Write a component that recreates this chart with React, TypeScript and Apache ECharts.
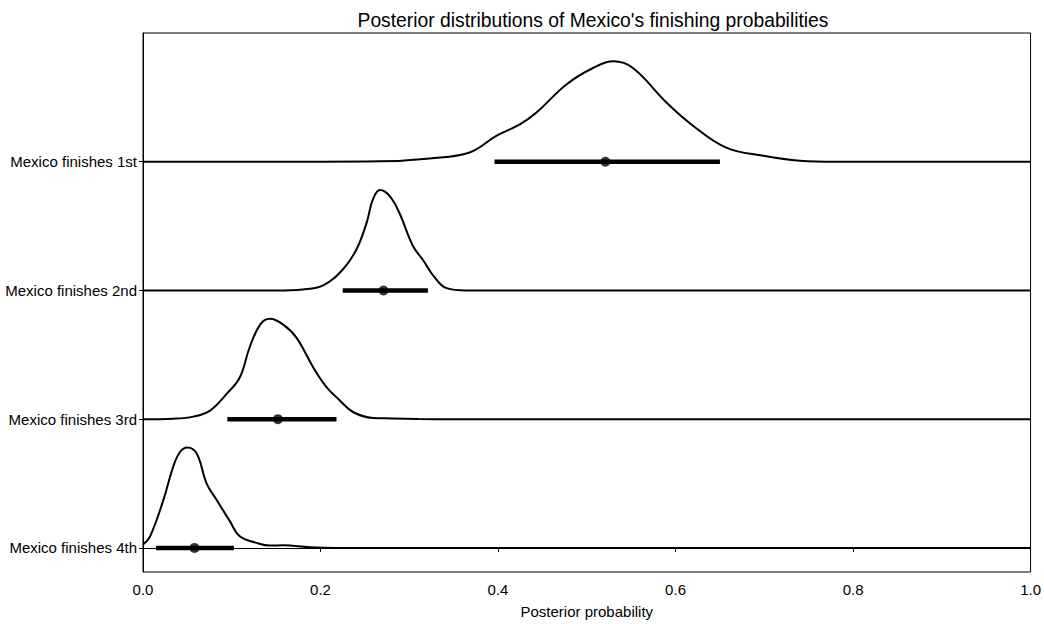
import React, { useEffect, useRef } from "react";
import * as echarts from "echarts";

const categories = ["Mexico finishes 4th", "Mexico finishes 3rd", "Mexico finishes 2nd", "Mexico finishes 1st"];
const offsets = [0, 1, 2, 3];

// density curves (x = probability, h = scaled density height above baseline)
const dens1st: [number, number][] = [
  [0.0, 0], [0.2, 0], [0.267, 0.003], [0.323, 0.026], [0.368, 0.072], [0.398, 0.2], [0.4245, 0.29],
  [0.443, 0.38], [0.477, 0.6], [0.507, 0.728], [0.53, 0.78], [0.552, 0.728], [0.59, 0.458],
  [0.62, 0.278], [0.657, 0.11], [0.699, 0.046], [0.74, 0.008], [0.78, 0], [1.0, 0],
];
const dens2nd: [number, number][] = [
  [0.0, 0], [0.15, 0], [0.18, 0.008], [0.203, 0.039], [0.2256, 0.167], [0.2406, 0.32],
  [0.252, 0.527], [0.259, 0.707], [0.267, 0.78], [0.278, 0.733], [0.289, 0.6], [0.304, 0.347],
  [0.316, 0.231], [0.327, 0.116], [0.342, 0.018], [0.364, 0], [1.0, 0],
];
const dens3rd: [number, number][] = [
  [0.0, 0], [0.034, 0.004], [0.0567, 0.02], [0.0755, 0.067], [0.094, 0.195], [0.109, 0.324],
  [0.12, 0.555], [0.132, 0.735], [0.143, 0.78], [0.158, 0.735], [0.173, 0.632], [0.192, 0.4],
  [0.207, 0.247], [0.222, 0.144], [0.237, 0.054], [0.259, 0.01], [0.28, 0.006], [0.31, 0.002], [0.35, 0], [1.0, 0],
];
const dens4th: [number, number][] = [
  [0.0, 0.026], [0.008, 0.09], [0.023, 0.373], [0.034, 0.63], [0.0417, 0.745], [0.05, 0.78],
  [0.0605, 0.733], [0.0717, 0.5], [0.083, 0.373], [0.098, 0.206], [0.109, 0.09], [0.128, 0.039],
  [0.143, 0.018], [0.158, 0.02], [0.188, 0.005], [0.22, 0], [1.0, 0],
];
const densities = [dens4th, dens3rd, dens2nd, dens1st];

// HDI intervals [low, high] and point estimates
const intervalLow = [0.0146, 0.095, 0.225, 0.396];
const intervalHigh = [0.1025, 0.218, 0.321, 0.65];
const pointEst = [0.058, 0.152, 0.271, 0.521];

export default function App() {
  const ref = useRef<HTMLDivElement>(null);
  useEffect(() => {
    if (!ref.current) return;
    const chart = echarts.init(ref.current, null, { renderer: "svg" });
    const font = "'Liberation Sans', Arial, Helvetica, sans-serif";
    const series: any[] = [];
    densities.forEach((d, i) => {
      series.push({
        type: "line",
        smooth: 0.4,
        symbol: "none",
        data: d.map(([x, h]) => [x, offsets[i] + h]),
        lineStyle: { color: "#000", width: 2 },
        z: 2,
      });
      series.push({
        type: "line",
        symbol: "none",
        data: [[intervalLow[i], offsets[i]], [intervalHigh[i], offsets[i]]],
        lineStyle: { color: "#000", width: 4.5, cap: "butt" },
        z: 3,
      });
      series.push({
        type: "scatter",
        symbol: "circle",
        symbolSize: 10,
        data: [[pointEst[i], offsets[i]]],
        itemStyle: { color: "#000" },
        z: 4,
      });
    });
    chart.setOption({
      animation: false,
      title: {
        text: "Posterior distributions of Mexico's finishing probabilities",
        left: 588,
        textAlign: "center",
        top: 6,
        textStyle: { fontFamily: font, fontSize: 19.3, fontWeight: "normal", color: "#000" },
      },
      grid: {
        left: 143, right: 13, top: 33, bottom: 48,
        show: true, borderColor: "#000", borderWidth: 1, backgroundColor: "transparent",
      },
      xAxis: {
        type: "value",
        min: 0,
        max: 1,
        interval: 0.2,
        name: "Posterior probability",
        nameLocation: "middle",
        nameGap: 32,
        nameTextStyle: { fontFamily: font, fontSize: 15, color: "#000" },
        axisLine: { show: true, lineStyle: { color: "#000", width: 1 } },
        axisTick: { show: true, length: 4, lineStyle: { color: "#000" } },
        axisLabel: {
          fontFamily: font, fontSize: 15, color: "#000", margin: 10,
          formatter: (v: number) => v.toFixed(1),
        },
        splitLine: { show: false },
      },
      yAxis: {
        type: "value",
        min: -0.187,
        max: 4.0,
        axisLine: { show: true, lineStyle: { color: "#000", width: 1 } },
        axisTick: { show: true, length: 4, lineStyle: { color: "#000" }, customValues: offsets },
        axisLabel: {
          fontFamily: font, fontSize: 15, color: "#000", margin: 6,
          customValues: offsets,
          formatter: (v: number) => categories[Math.round(v)] ?? "",
        },
        splitLine: { show: false },
      },
      series,
    });
    return () => chart.dispose();
  }, []);
  return <div ref={ref} style={{ width: 1044, height: 624, position: "absolute", left: 0, top: 0 }} />;
}
